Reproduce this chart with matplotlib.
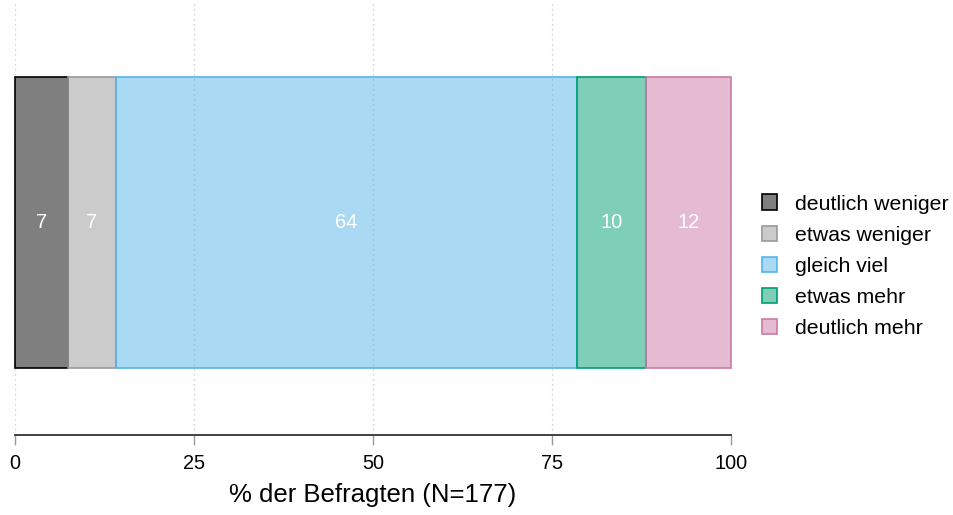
# Single stacked bar: share of respondents per answer category (N=177).
import matplotlib
matplotlib.use("Agg")
import matplotlib.pyplot as plt

categories = ["deutlich weniger", "etwas weniger", "gleich viel", "etwas mehr", "deutlich mehr"]
shares = [7.34, 6.78, 64.41, 9.60, 11.86]   # % der Befragten
labels = ["7", "7", "64", "10", "12"]
ticks = [0, 25, 50, 75, 100]

edge_cols = ["#000000", "#999999", "#56B4E9", "#009E73", "#CC79A7"]

plt.rcParams.update({"font.family": ["Liberation Sans", "DejaVu Sans"]})
fig = plt.figure(figsize=(9.54, 5.15), dpi=100)
ax = fig.add_axes([15 / 954, 80 / 515, 716 / 954, 435 / 515])

left = 0.0
handles = []
for cat, v, lab, col in zip(categories, shares, labels, edge_cols):
    ax.barh(0, v, left=left, height=0.67, color=col, alpha=0.5,
            edgecolor="none", zorder=3, clip_on=False)
    ax.barh(0, v, left=left, height=0.67, color="none", edgecolor=col,
            linewidth=1.2, zorder=4, clip_on=False)
    ax.text(left + v / 2, 0, lab, ha="center", va="center", color="white",
            fontsize=14.5, zorder=5)
    h = plt.Rectangle((0, 0), 1, 1, facecolor=matplotlib.colors.to_rgba(col, 0.5),
                      edgecolor=col, linewidth=1.2)
    handles.append(h)
    left += v

ax.set_xlim(0, 100)
ax.set_ylim(-0.489, 0.511)
ax.set_yticks([])
ax.set_xticks(ticks)
ax.set_xticklabels([str(t) for t in ticks], fontsize=14.3)
ax.tick_params(axis="x", length=7, width=1, color="#999999", pad=7)
ax.grid(axis="x", color="#c4c4c4", linestyle=(0, (1, 3)), linewidth=0.9, zorder=0)
for s in ["top", "right", "left"]:
    ax.spines[s].set_visible(False)
ax.spines["bottom"].set_color("#333333")
ax.spines["bottom"].set_linewidth(1.3)
ax.set_xlabel("% der Befragten (N=177)", fontsize=18.5, labelpad=7)

fig.legend(handles, categories, loc="center left", bbox_to_anchor=(0.779, 0.483),
           frameon=False, fontsize=15.3, handlelength=0.7, handleheight=0.75,
           handletextpad=0.85, labelspacing=0.56)

fig.savefig("out.png", dpi=100, facecolor="white")
